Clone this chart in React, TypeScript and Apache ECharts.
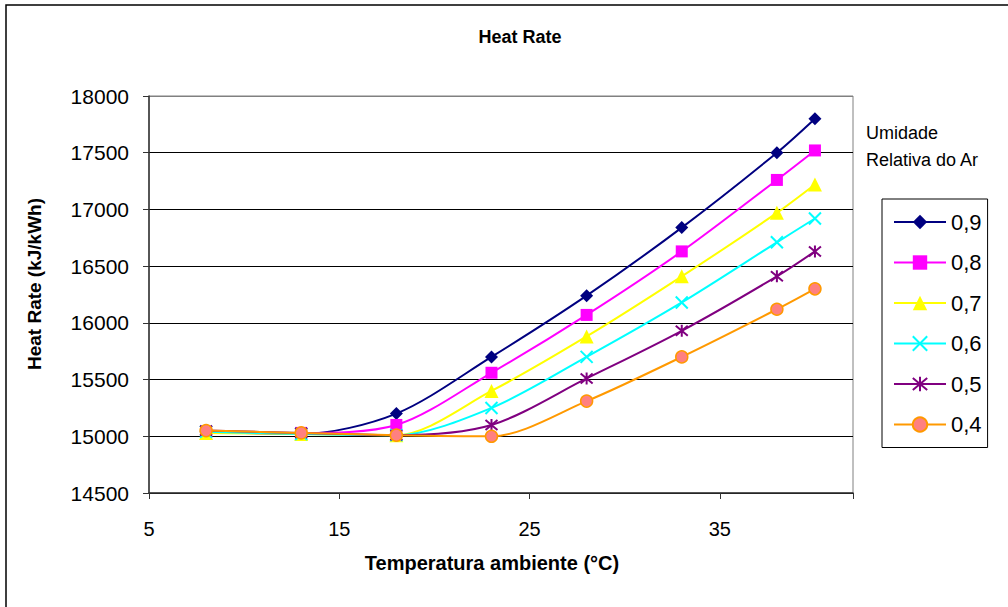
import React, { useEffect, useRef } from "react";
import * as echarts from "echarts";

const temperatures = [8, 13, 18, 23, 28, 33, 38, 40];
const seriesNames = ["0,9", "0,8", "0,7", "0,6", "0,5", "0,4"];
const hr09 = [15040, 15020, 15200, 15700, 16240, 16840, 17500, 17800];
const hr08 = [15040, 15030, 15100, 15560, 16070, 16630, 17260, 17520];
const hr07 = [15030, 15020, 15010, 15400, 15880, 16410, 16970, 17220];
const hr06 = [15040, 15020, 15010, 15250, 15700, 16180, 16710, 16920];
const hr05 = [15050, 15030, 15010, 15100, 15510, 15930, 16410, 16630];
const hr04 = [15050, 15030, 15010, 15000, 15310, 15700, 16120, 16300];
const seriesValues = [hr09, hr08, hr07, hr06, hr05, hr04];

const lineColors = ["#000080", "#FF00FF", "#FFFF00", "#00FFFF", "#800080", "#FF9900"];
const fillColors = ["#000080", "#FF00FF", "#FFFF00", "#00FFFF", "#800080", "#FF8080"];
const symbols = [
  "diamond",
  "rect",
  "triangle",
  "path://M0,0L10,10M10,0L0,10",
  "path://M0,0L10,10M10,0L0,10M5,-1L5,11",
  "circle",
];
const symbolSizes = [13, 12, 14, 12, 12, 12];
const FONT = "'Liberation Sans', Arial, sans-serif";

export default function App() {
  const ref = useRef<HTMLDivElement>(null);
  useEffect(() => {
    if (!ref.current) return;
    const chart = echarts.init(ref.current, undefined, { renderer: "svg" });
    const series = seriesNames.map((name, i) => {
      const isStroke = i === 3 || i === 4;
      return {
        name,
        type: "line",
        smooth: 0.3,
        data: temperatures.map((t, j) => [t, seriesValues[i][j]]),
        symbol: symbols[i],
        symbolSize: symbolSizes[i],
        showAllSymbol: true,
        lineStyle: { color: lineColors[i], width: 2 },
        itemStyle: isStroke
          ? { color: "none", borderColor: lineColors[i], borderWidth: 2 }
          : i === 5
          ? { color: fillColors[i], borderColor: lineColors[i], borderWidth: 1.5 }
          : { color: fillColors[i], borderWidth: 0 },
        emphasis: { disabled: true },
        z: 2 + i,
      };
    });
    chart.setOption({
      animation: false,
      backgroundColor: "#ffffff",
      textStyle: { fontFamily: FONT },
      grid: {
        left: 149,
        top: 96,
        right: 155,
        bottom: 114,
        show: true,
        borderColor: "#808080",
        borderWidth: 1,
      },
      xAxis: {
        type: "value",
        min: 5,
        max: 42,
        interval: 10,
        axisLine: { show: true, lineStyle: { color: "#333", width: 1.5 } },
        axisTick: { show: true, length: 6, lineStyle: { color: "#333" } },
        axisLabel: {
          color: "#000",
          fontSize: 20,
          fontFamily: FONT,
          margin: 26,
          formatter: (v: number) => (v % 10 === 5 ? String(v) : ""),
        },
        splitLine: { show: false },
      },
      yAxis: {
        type: "value",
        min: 14500,
        max: 18000,
        interval: 500,
        axisLine: { show: true, lineStyle: { color: "#333", width: 1.5 } },
        axisTick: { show: true, length: 6, lineStyle: { color: "#333" } },
        axisLabel: {
          color: "#000",
          fontSize: 21,
          fontFamily: FONT,
          margin: 20,
          formatter: (v: number) => String(v),
        },
        splitLine: {
          show: true,
          lineStyle: {
            color: ["#000", "#000", "#000", "#000", "#000", "#000", "#000", "#808080"],
            width: 1,
          },
        },
      },
      legend: {
        orient: "vertical",
        left: 882,
        top: 199,
        padding: [12, 6, 12, 11],
        itemWidth: 52,
        itemHeight: 18,
        itemGap: 18.5,
        borderColor: "#000",
        borderWidth: 1,
        textStyle: { color: "#000", fontSize: 22, fontFamily: FONT },
        data: seriesNames,
      },
      graphic: [
        {
          type: "rect",
          shape: { x: 6, y: 5, width: 1100, height: 700 },
          style: { fill: "none", stroke: "#000", lineWidth: 1.5 },
          silent: true,
        },
        {
          type: "text",
          x: 520,
          y: 37,
          style: {
            text: "Heat Rate",
            font: `bold 18px ${FONT}`,
            fill: "#000",
            align: "center",
            verticalAlign: "middle",
          },
        },
        {
          type: "text",
          x: 492,
          y: 563,
          style: {
            text: "Temperatura ambiente (°C)",
            font: `bold 20px ${FONT}`,
            fill: "#000",
            align: "center",
            verticalAlign: "middle",
          },
        },
        {
          type: "text",
          x: 34,
          y: 284,
          rotation: Math.PI / 2,
          style: {
            text: "Heat Rate (kJ/kWh)",
            font: `bold 19px ${FONT}`,
            fill: "#000",
            align: "center",
            verticalAlign: "middle",
          },
        },
        {
          type: "text",
          x: 866,
          y: 133,
          style: {
            text: "Umidade",
            font: `18px ${FONT}`,
            fill: "#000",
            align: "left",
            verticalAlign: "middle",
          },
        },
        {
          type: "text",
          x: 866,
          y: 160,
          style: {
            text: "Relativa do Ar",
            font: `18px ${FONT}`,
            fill: "#000",
            align: "left",
            verticalAlign: "middle",
          },
        },
      ],
      series,
    });
    return () => chart.dispose();
  }, []);
  return (
    <div
      ref={ref}
      style={{ position: "fixed", left: 0, top: 0, width: 1008, height: 607 }}
    />
  );
}
